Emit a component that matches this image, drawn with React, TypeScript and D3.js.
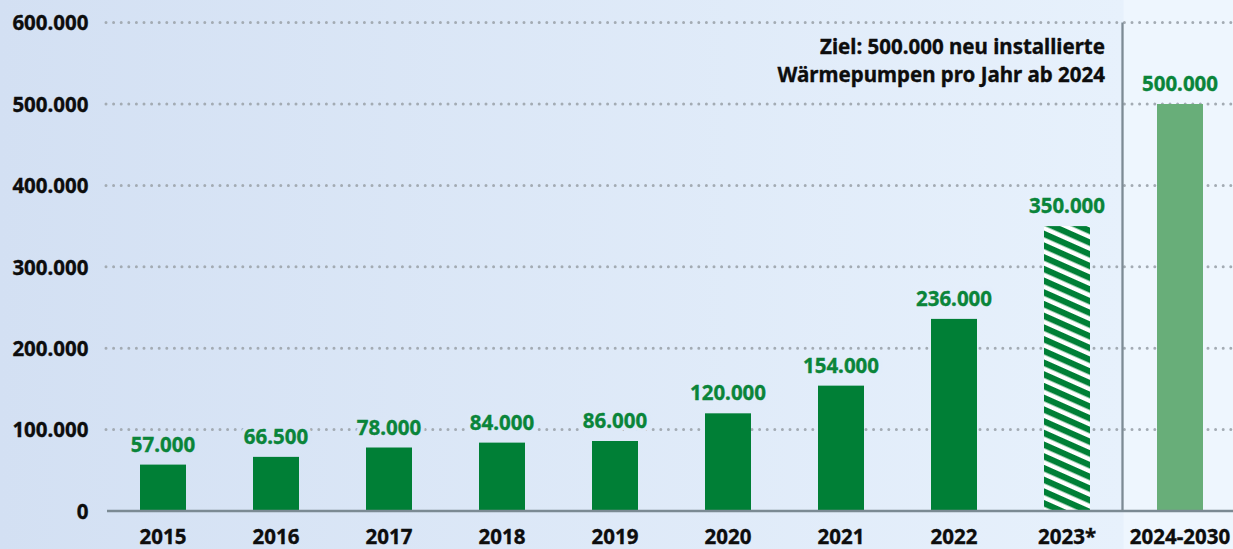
import React from "react";
import * as d3 from "d3";

const categories = ["2015", "2016", "2017", "2018", "2019", "2020", "2021", "2022", "2023*", "2024-2030"];
const values = [57000, 66500, 78000, 84000, 86000, 120000, 154000, 236000, 350000, 500000];
const valueLabels = ["57.000", "66.500", "78.000", "84.000", "86.000", "120.000", "154.000", "236.000", "350.000", "500.000"];
const barKinds = ["solid", "solid", "solid", "solid", "solid", "solid", "solid", "solid", "hatched", "target"];
const yTicks = [0, 100000, 200000, 300000, 400000, 500000, 600000];
const yTickLabels = ["0", "100.000", "200.000", "300.000", "400.000", "500.000", "600.000"];
const noteLines = ["Ziel: 500.000 neu installierte", "Wärmepumpen pro Jahr ab 2024"];

const W = 1233;
const H = 549;
const FONT = "'Noto Sans', 'Open Sans', sans-serif";
const GREEN = "#007f36";
const LABEL_GREEN = "#0a853a";
const LIGHT_GREEN = "#68ae79";
const INK = "#0d0d0d";

export default function App() {
  const x = d3
    .scaleBand<string>()
    .domain(categories)
    .range([106.5, 106.5 + 113 * categories.length])
    .paddingInner(1 - 46 / 113)
    .paddingOuter((1 - 46 / 113) / 2);
  const y = d3.scaleLinear().domain([0, 600000]).range([511, 22.6]);
  const sepX = x.step() * 9 + 106.5;
  const bgAt = d3.scaleLinear<string>().domain([0, sepX]).range(["#d3e0f3", "#e7f1fc"]).clamp(true);

  const boldText = {
    fontFamily: FONT,
    fontWeight: 700,
    fontSize: 20.5,
  } as const;

  return (
    <svg width={W} height={H} style={{ position: "absolute", left: 0, top: 0, display: "block" }}>
      <defs>
        <linearGradient id="bg" x1="0" x2={sepX} y1="0" y2="0" gradientUnits="userSpaceOnUse">
          <stop offset="0" stopColor="#d3e0f3" />
          <stop offset="1" stopColor="#e7f1fc" />
        </linearGradient>
        <pattern id="hatch" patternUnits="userSpaceOnUse" width="10.7" height="10.7" patternTransform="rotate(24)">
          <rect x="0" y="0" width="10.7" height="10.7" fill="#ffffff" />
          <rect x="0" y="0" width="10.7" height="6.2" fill={GREEN} />
        </pattern>
      </defs>
      <rect x={0} y={0} width={W} height={H} fill="url(#bg)" />
      <rect x={sepX} y={0} width={W - sepX} height={H} fill="#eef6fe" />

      {yTicks.slice(1).map((t) => (
        <line
          key={"g" + t}
          x1={106}
          x2={W}
          y1={y(t)}
          y2={y(t)}
          stroke="#a3abb3"
          strokeWidth={3}
          strokeLinecap="round"
          strokeDasharray="0 7.6"
        />
      ))}

      {yTicks.map((t, i) => (
        <text
          key={"yl" + t}
          x={88.5}
          y={y(t) + 7.8}
          textAnchor="end"
          {...boldText}
          fill={INK}
          stroke={INK}
          strokeWidth={0.35}
        >
          {yTickLabels[i]}
        </text>
      ))}

      <line x1={sepX - 1} x2={sepX - 1} y1={y(600000)} y2={y(0)} stroke="#7d8b95" strokeWidth={2.3} />

      {categories.map((c, i) => {
        const bx = x(c) as number;
        const kind = barKinds[i];
        const fill = kind === "hatched" ? "url(#hatch)" : kind === "target" ? LIGHT_GREEN : GREEN;
        return (
          <rect key={"b" + c} x={bx} y={y(values[i])} width={x.bandwidth()} height={y(0) - y(values[i])} fill={fill} />
        );
      })}

      <line x1={107} x2={W} y1={y(0)} y2={y(0)} stroke="#7b8a93" strokeWidth={2.5} />

      {categories.map((c, i) => {
        const cx = (x(c) as number) + x.bandwidth() / 2;
        return (
          <g key={"v" + c}>
            <text
              x={cx}
              y={y(values[i]) - 13}
              textAnchor="middle"
              {...boldText}
              fill={i === 9 ? "#eef6fe" : bgAt(cx)}
              stroke={i === 9 ? "#eef6fe" : bgAt(cx)}
              strokeWidth={8}
              strokeLinejoin="round"
            >
              {valueLabels[i]}
            </text>
            <text
              x={cx}
              y={y(values[i]) - 13}
              textAnchor="middle"
              {...boldText}
              fill={LABEL_GREEN}
              stroke={LABEL_GREEN}
              strokeWidth={0.35}
            >
              {valueLabels[i]}
            </text>
          </g>
        );
      })}

      {categories.map((c) => (
        <text
          key={"x" + c}
          x={(x(c) as number) + x.bandwidth() / 2}
          y={544}
          textAnchor="middle"
          {...boldText}
          fill={INK}
          stroke={INK}
          strokeWidth={0.35}
        >
          {c}
        </text>
      ))}

      {noteLines.map((l, i) => (
        <text
          key={"n" + i}
          x={1105}
          y={54 + i * 27.5}
          textAnchor="end"
          {...boldText}
          fill={INK}
          stroke={INK}
          strokeWidth={0.35}
        >
          {l}
        </text>
      ))}
    </svg>
  );
}
